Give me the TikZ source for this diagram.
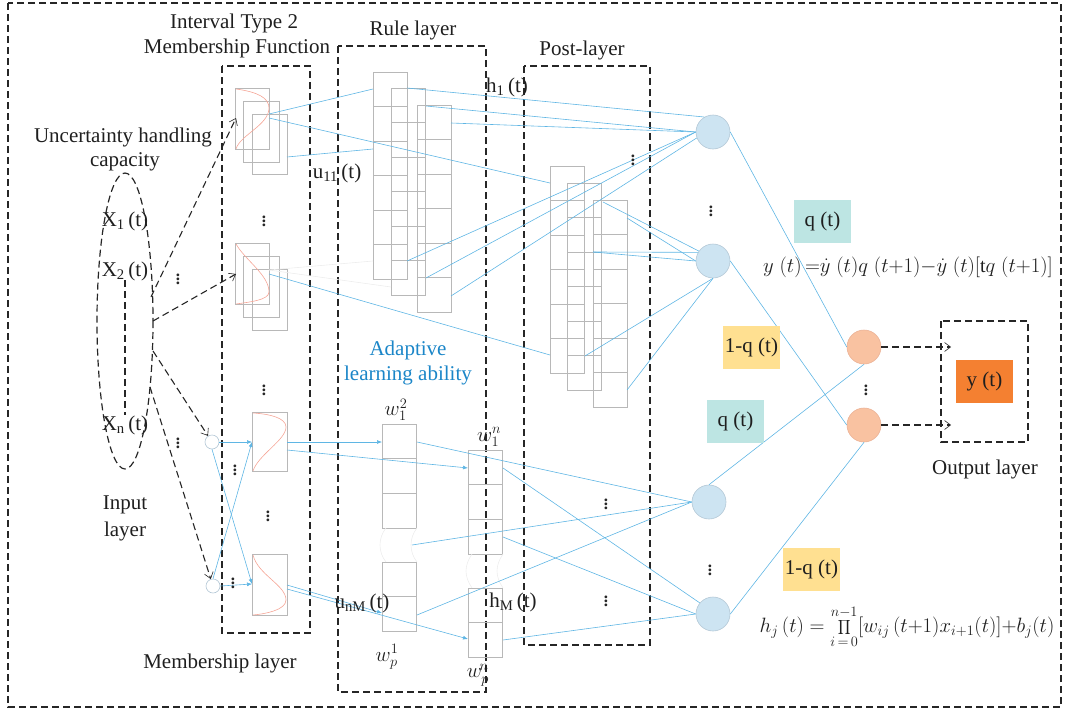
\documentclass[tikz,border=0pt]{standalone}
\usepackage{fontspec}
\setmainfont{Liberation Serif}
\usetikzlibrary{arrows.meta}
\definecolor{lb}{RGB}{95,182,228}
\definecolor{rcol}{RGB}{245,165,150}
\definecolor{cfill}{RGB}{205,228,242}
\definecolor{cdraw}{RGB}{180,200,214}
\definecolor{ofill}{RGB}{249,194,161}
\definecolor{odraw}{RGB}{235,178,150}
\definecolor{teal}{RGB}{189,229,227}
\definecolor{yel}{RGB}{255,224,145}
\definecolor{org}{RGB}{244,128,49}
\definecolor{tblue}{RGB}{27,134,200}
\newcommand\gcol[5]{\draw[gbox] (#1,#2) rectangle ++(34,#5);\foreach \k in {1,...,#3}{\draw[gbox] (#1,{#2+\k*#4}) -- ++(34,0);}}
\begin{document}
\begin{tikzpicture}[x=1pt,y=-1pt,
 lbl/.style={font=\fontsize{21}{24}\selectfont, inner sep=0pt, text=black!88},
 gbox/.style={draw=black!28, line width=0.8pt},
 bl/.style={draw=lb, line width=0.6pt},
 fl/.style={draw=black!7, line width=0.6pt},
 bla/.style={bl, -{Latex[length=5pt,width=4pt]}},
 dsh/.style={draw=black!85, line width=1.2pt, dash pattern=on 7pt off 4pt},
 dsha/.style={draw=black!85, line width=1.1pt, dash pattern=on 7pt off 4pt, -{Straight Barb[length=6pt,width=9pt,line width=0.6pt]}},
 rc/.style={draw=rcol, line width=0.6pt},
 bc/.style={circle, fill=cfill, draw=cdraw, line width=0.6pt, minimum size=34pt, inner sep=0pt},
 oc/.style={circle, fill=ofill, draw=odraw, line width=0.6pt, minimum size=34pt, inner sep=0pt},
 sc/.style={circle, fill=white, draw=cdraw, line width=0.6pt, minimum size=14pt, inner sep=0pt},
 dv/.style={font=\fontsize{17}{17}\bfseries\selectfont, inner sep=0pt, text=black!85},
 tag/.style={lbl, minimum width=57pt, minimum height=43pt},
]
\useasboundingbox (0,0) rectangle (1065,712);
% outer and layer boxes
\draw[dsh] (8,3) rectangle (1061,707);
\draw[dsh] (222,66) rectangle (310,633);
\draw[dsh] (338,46) rectangle (486,692);
\draw[dsh] (524,66) rectangle (650,645);
\draw[dsh] (941,321) rectangle (1028,442);
% input ellipse
\draw[dsh] (125,321) ellipse [x radius=28, y radius=148];
\draw[dsh] (125,280) -- (125,415);
% membership function boxes (top groups)
\draw[gbox] (235,88) rectangle (269,149);
\draw[gbox] (243,101) rectangle (279,162);
\draw[gbox] (252,114) rectangle (287,174);
\draw[rc] (236,89) .. controls (258,92) and (269,98) .. (269,108) .. controls (269,125) and (240,135) .. (236,149);
\draw[gbox] (235,243) rectangle (269,304);
\draw[gbox] (243,256) rectangle (279,317);
\draw[gbox] (252,269) rectangle (287,330);
\draw[rc] (236,244) .. controls (245,260) and (269,275) .. (269,292) .. controls (269,300) and (250,302) .. (236,304);
% membership function boxes (bottom)
\draw[gbox] (252,412) rectangle (287,471);
\draw[rc] (253,413) .. controls (270,414) and (286,418) .. (286,427) .. controls (286,440) and (258,455) .. (253,471);
\draw[gbox] (252,554) rectangle (287,615);
\draw[rc] (253,555) .. controls (258,575) and (286,585) .. (286,600) .. controls (286,610) and (265,614) .. (253,615);
% rule layer columns
\gcol{373}{72}{5}{34.5}{207}
\gcol{391}{88}{5}{34.5}{207}
\gcol{417}{105}{5}{34.5}{207}
% post layer columns
\gcol{550}{166}{5}{34.5}{207}
\gcol{567}{183}{5}{34.5}{207}
\gcol{593}{200}{5}{34.5}{207}
% bottom rule columns
\gcol{382}{424}{2}{34.7}{104}
\gcol{382}{562}{1}{34.5}{69}
\gcol{468}{450}{2}{34.7}{104}
\gcol{468}{588}{1}{34.5}{69}
\draw[fl] (386,528) .. controls (378,538) and (378,552) .. (386,562);
\draw[fl] (417,528) .. controls (409,538) and (409,552) .. (417,562);
\draw[fl] (472,554) .. controls (464,566) and (464,576) .. (472,588);
\draw[fl] (503,554) .. controls (495,566) and (495,576) .. (503,588);
% circles
\node[bc] (C1) at (713,132) {};
\node[bc] (C2) at (713,261) {};
\node[bc] (C3) at (709,502) {};
\node[bc] (C4) at (713,614) {};
\node[oc] (O1) at (864,347) {};
\node[oc] (O2) at (864,425) {};
\node[sc] (s1) at (212,442) {};
\node[sc] (s2) at (213,586) {};
% coordinates
\coordinate (e1a) at (151,297); \coordinate (e1b) at (236,118);
\coordinate (e2a) at (153,321); \coordinate (e2b) at (236,274);
\coordinate (e3a) at (153,351);
\coordinate (e4a) at (150,387);
\coordinate (m1a) at (269,114); \coordinate (m1b) at (269,118); \coordinate (m1c) at (287,157);
\coordinate (m2a) at (269,270); \coordinate (m2b) at (269,274);
\coordinate (r1l) at (373,89); \coordinate (r1m) at (373,149); \coordinate (r1n) at (373,261); \coordinate (r2n) at (391,287);
\coordinate (p1a) at (550,183); \coordinate (p1b) at (550,355);
\coordinate (r7) at (407,88); \coordinate (r8) at (426,106); \coordinate (r9) at (451,123);
\coordinate (r10) at (407,261); \coordinate (r11) at (426,278); \coordinate (r12) at (451,296);
\coordinate (p13) at (603,202); \coordinate (p14) at (627,218); \coordinate (p15) at (593,252);
\coordinate (p17) at (585,356); \coordinate (p18) at (627,390);
\coordinate (bb1a) at (287,442); \coordinate (bb1b) at (287,450);
\coordinate (bb2a) at (287,585); \coordinate (bb2b) at (287,589);
\coordinate (bb1l) at (252,442); \coordinate (bb2l) at (252,584);
\coordinate (wa) at (382,442); \coordinate (wb) at (468,468); \coordinate (wc) at (382,613); \coordinate (wd) at (468,639);
\coordinate (w31) at (417,442); \coordinate (w32) at (503,468); \coordinate (w33) at (503,537);
\coordinate (w34) at (412,545); \coordinate (w35) at (417,615); \coordinate (w36) at (503,640);
\coordinate (y1) at (951,347); \coordinate (y2) at (951,425);
% dashed arrows
\draw[dsha] (e1a) -- (e1b);
\draw[dsha] (e2a) -- (e2b);
\draw[dsha] (e3a) -- (s1);
\draw[dsha] (e4a) -- (s2);
\draw[dsha] (O1) -- (y1);
\draw[dsha] (O2) -- (y2);
% blue connectors
\draw[bl] (m1a) -- (r1l);
\draw[bl] (m1b) -- (p1a);
\draw[bl] (m1c) -- (r1m);
\draw[fl] (m2a) -- (r1n);
\draw[fl] (m2a) -- (r2n);
\draw[bl] (m2b) -- (p1b);
\draw[bl] (r7) -- (C1.120);
\draw[bl] (r8) -- (C1.west);
\draw[bl] (r9) -- (C1.west);
\draw[bl] (r10) -- (C1.west);
\draw[bl] (r11) -- (C1.west);
\draw[bl] (r12) -- (C1.200);
\draw[bl] (p13) -- (C2.145);
\draw[bl] (p14) -- (C2.west);
\draw[bl] (p15) -- (C2.150);
\draw[bl] (p15) -- (C2.west);
\draw[bl] (C2.south) -- (p17);
\draw[bl] (C2.south) -- (p18);
\draw[bl] (C1.east) -- (O1.west);
\draw[bl] (C2.east) -- (O2.west);
\draw[bl] (C3.north) -- (O1.south);
\draw[bl] (C4.east) -- (O2.south);
\draw[bla] (s1.east) -- (bb1l);
\draw[bla] (s1.south) -- (bb2l);
\draw[bla] (s2.north) -- (bb1l);
\draw[bla] (s2.east) -- (bb2l);
\draw[bla] (bb1a) -- (wa);
\draw[bla] (bb1b) -- (wb);
\draw[bla] (bb2a) -- (wc);
\draw[bla] (bb2b) -- (wd);
\draw[bl] (w31) -- (C3.west);
\draw[bl] (w34) -- (C3.west);
\draw[bl] (w35) -- (C3.west);
\draw[bl] (w32) -- (C4.140);
\draw[bl] (w33) -- (C4.west);
\draw[bl] (w36) -- (C4.west);
% dots
\node[dv] (dA) at (264,218) {$\vdots$};
\node[dv] (dB) at (264,387) {$\vdots$};
\node[dv] (dC) at (178,276) {$\vdots$};
\node[dv] (dD) at (178,440) {$\vdots$};
\node[dv] (dE) at (235,467) {$\vdots$};
\node[dv] (dF) at (268,513) {$\vdots$};
\node[dv] (dG) at (233,580) {$\vdots$};
\node[dv] (dH) at (633,157) {$\vdots$};
\node[dv] (dI) at (711,208) {$\vdots$};
\node[dv] (dJ) at (606,501) {$\vdots$};
\node[dv] (dK) at (606,598) {$\vdots$};
\node[dv] (dL) at (866,387) {$\vdots$};
\node[dv] (dM) at (710,567) {$\vdots$};
% labels
\node[lbl] (t1) at (234,23) {Interval Type 2};
\node[lbl] (t2) at (237,48) {Membership Function};
\node[lbl] (t3) at (413,30) {Rule layer};
\node[lbl] (t4) at (582,50) {Post-layer};
\node[lbl] (t5) at (123,137) {Uncertainty handling};
\node[lbl] (t6) at (125,162) {capacity};
\node[lbl] (x1) at (125,221) {X\textsubscript{1}\,(t)};
\node[lbl] (x2) at (125,271) {X\textsubscript{2}\,(t)};
\node[lbl] (xn) at (125,425) {X\textsubscript{n}\,(t)};
\node[lbl] (u11) at (337,173) {u\textsubscript{11}\,(t)};
\node[lbl] (h1) at (507,87) {h\textsubscript{1}\,(t)};
\node[lbl] (unm) at (362,603) {u\textsubscript{nM}\,(t)};
\node[lbl] (hm) at (513,602) {h\textsubscript{M}\,(t)};
\node[lbl, text=tblue] (al1) at (408,350) {Adaptive};
\node[lbl, text=tblue] (al2) at (408,375) {learning ability};
\node[lbl] (w12) at (396,410) {$w_1^2$};
\node[lbl] (w1n) at (489,437) {$w_1^n$};
\node[lbl] (wp1) at (387,657) {$w_p^1$};
\node[lbl] (wpn) at (478,675) {$w_p^{\!n}$};
\node[lbl] (il1) at (125,505) {Input};
\node[lbl] (il2) at (125,531) {layer};
\node[lbl] (ml) at (220,663) {Membership layer};
\node[lbl] (ol) at (985,469) {Output layer};
\node[tag, fill=teal] (q1) at (822.5,221.5) {q (t)};
\node[tag, fill=yel] (nq1) at (751.5,347.5) {1-q (t)};
\node[tag, fill=teal] (q2) at (735.5,421.5) {q (t)};
\node[tag, fill=yel] (nq2) at (811.5,569.5) {1-q (t)};
\node[tag, fill=org] (yt) at (984.5,381.5) {y (t)};
\node[lbl, font=\fontsize{20}{23}\selectfont] (f1) at (908,267) {$y\;(t)\,{=}\dot{y}\;(t)q\;(t{+}1){-}\dot{y}\;(t)[\mathrm{t}q\;(t{+}1)]$};
\node[lbl, font=\fontsize{20}{23}\selectfont] (f2) at (907,627) {$h_j\,(t)=\displaystyle\prod_{i\,=\,0}^{n-1}[w_{ij}\,(t{+}1)x_{i+1}(t)]{+}b_j(t)$};
\end{tikzpicture}
\end{document}
